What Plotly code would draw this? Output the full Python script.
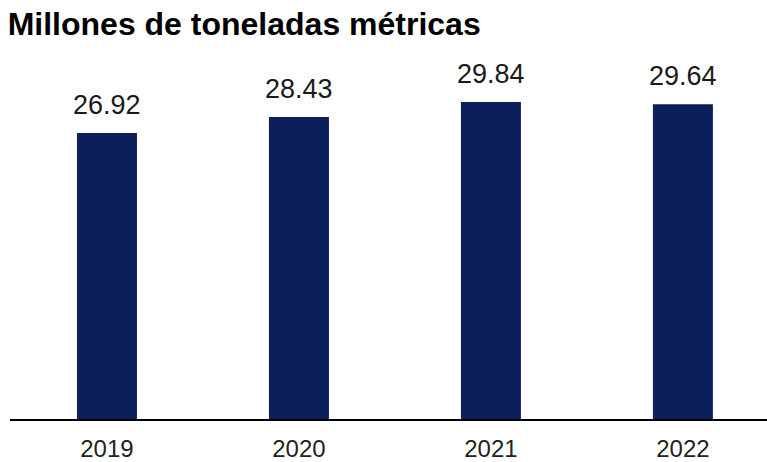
import plotly.graph_objects as go

years = ["2019", "2020", "2021", "2022"]
values = [26.92, 28.43, 29.84, 29.64]
labels = ["26.92", "28.43", "29.84", "29.64"]

fig = go.Figure()
fig.add_trace(go.Bar(
    x=years, y=values, width=0.3125,
    marker=dict(color="#0a1f5c", line=dict(width=0)),
    hoverinfo="x+y",
))
for i, (v, lab) in enumerate(zip(values, labels)):
    fig.add_annotation(x=i, y=v, xref="x", yref="y", text=lab, showarrow=False,
                       yanchor="bottom", yshift=11,
                       font=dict(family="Liberation Sans, Arial", size=27, color="#1a1a1a"))
fig.update_layout(
    width=767, height=462,
    margin=dict(l=10, r=0, t=60, b=43),
    plot_bgcolor="white", paper_bgcolor="white",
    showlegend=False,
    title=dict(text="<b>Millones de toneladas métricas</b>", x=0.01, xanchor="left",
               y=0.948, yanchor="middle",
               font=dict(family="Liberation Sans, Arial", size=32, color="#000000")),
    xaxis=dict(type="category", range=[-0.505, 3.438], showline=True, linecolor="#000000",
               linewidth=2, showgrid=False, ticks="", ticklabelstandoff=7, automargin=False,
               tickfont=dict(family="Liberation Sans, Arial", size=24, color="#222222")),
    yaxis=dict(range=[0, 33.8], visible=False, showgrid=False, zeroline=False),
)
fig.write_html("out.html")
